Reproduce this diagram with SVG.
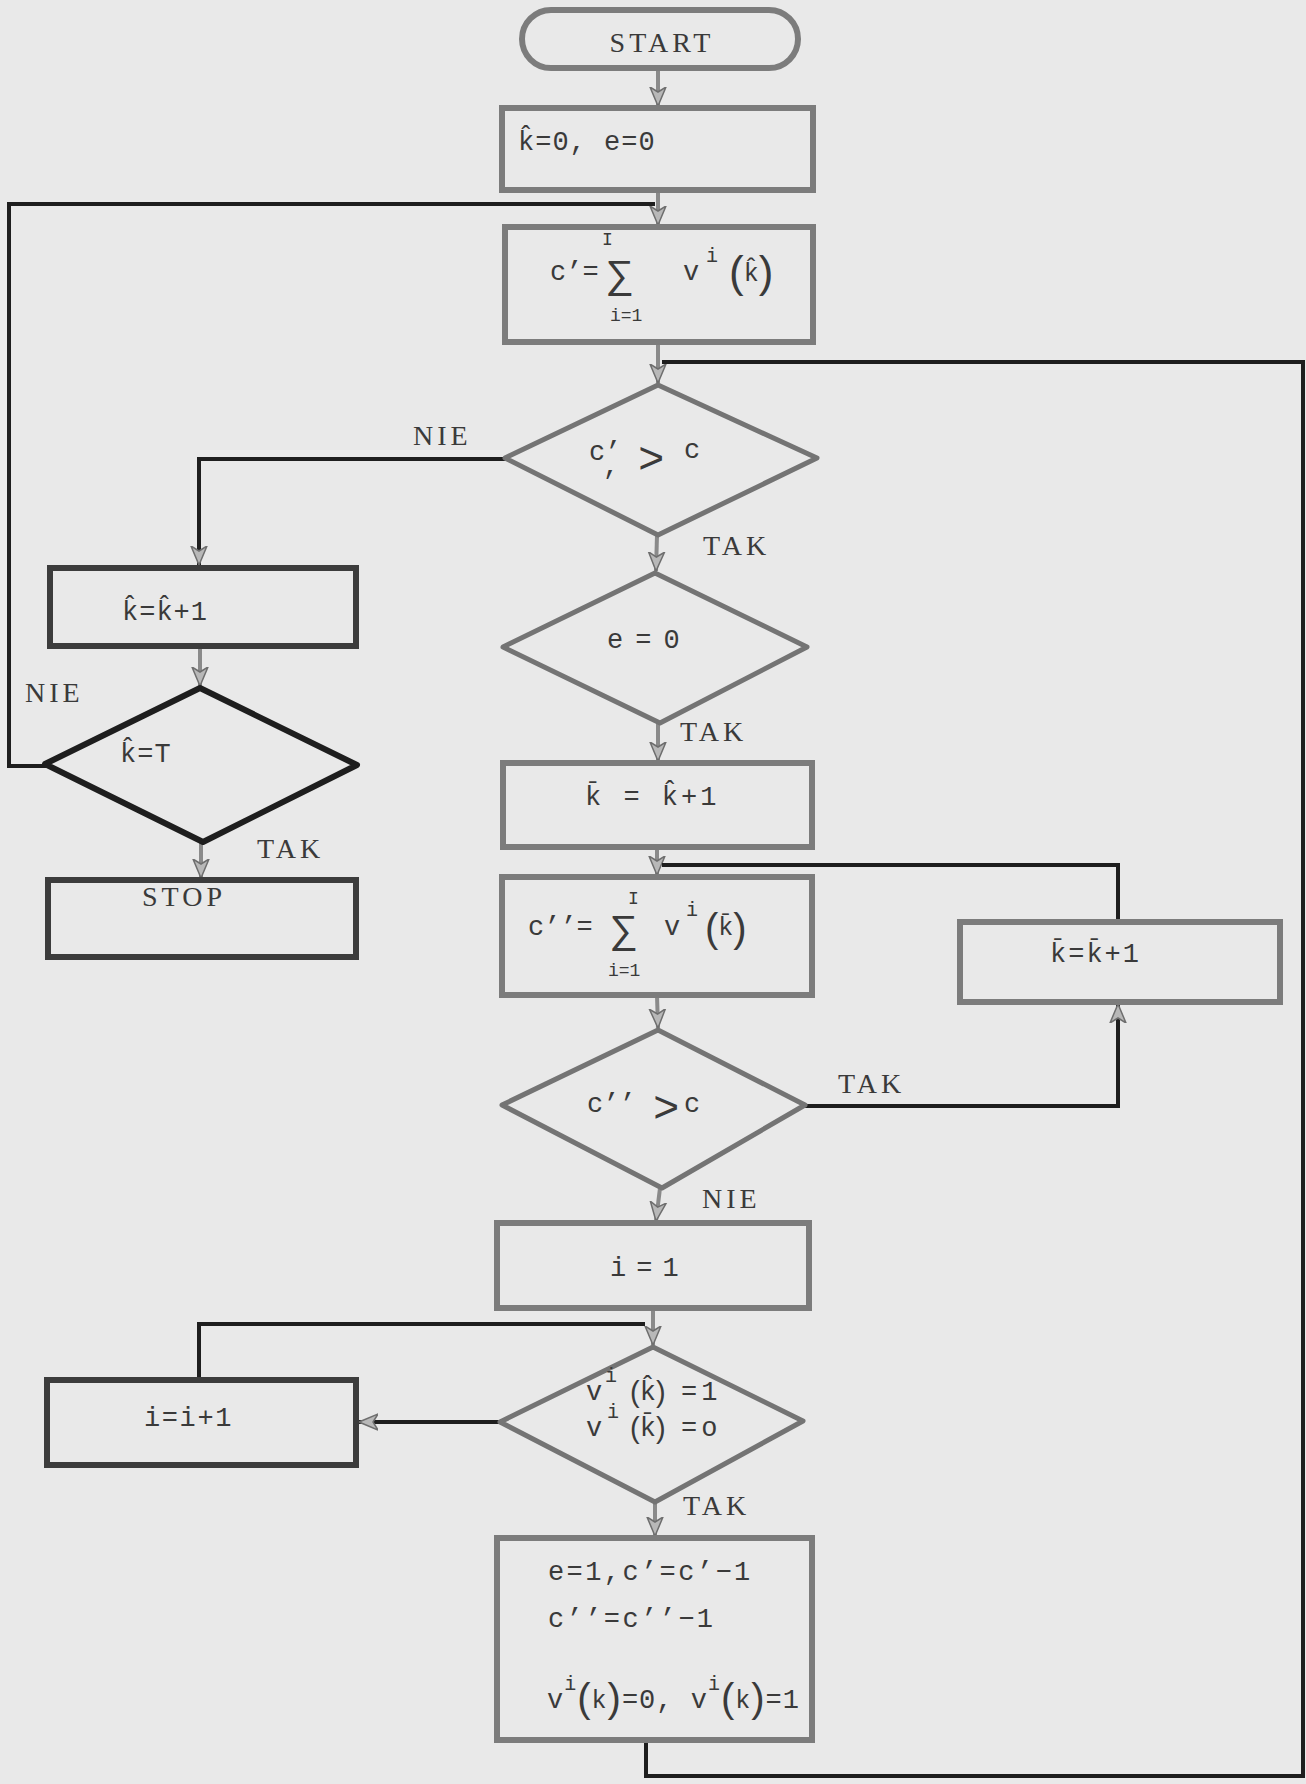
<svg xmlns="http://www.w3.org/2000/svg" width="1306" height="1784" viewBox="0 0 1306 1784">
<style>
.bg{fill:#e9e9e9}
.box{fill:none;stroke:#7c7c7c;stroke-width:6}
.boxd{fill:none;stroke:#3c3c3c;stroke-width:6}
.dia{fill:none;stroke:#747474;stroke-width:5;stroke-linejoin:round}
.diad{fill:none;stroke:#1e1e1e;stroke-width:6;stroke-linejoin:round}
.con{fill:none;stroke:#1e1e1e;stroke-width:4}
.conA{fill:none;stroke:#8a8a8a;stroke-width:4}
.f{font-family:"Liberation Mono","DejaVu Sans Mono",monospace;font-size:27px;fill:#3a3a3a}
.lab{font-family:"Liberation Serif","DejaVu Serif",serif;font-size:28px;letter-spacing:4px;fill:#3a3a3a}
.sm{font-size:18px}
.sup{font-size:20px}
.par{font-family:"Liberation Sans","DejaVu Sans",sans-serif}
</style>
<defs>
<marker id="ah" viewBox="0 0 20 20" refX="19" refY="10" markerWidth="20" markerHeight="20" markerUnits="userSpaceOnUse" orient="auto">
<path d="M0,2 L19,10 L0,18 L5,10 z" fill="#b8b8b8" stroke="#6e6e6e" stroke-width="1.5"/>
</marker>
</defs>
<rect class="bg" x="0" y="0" width="1306" height="1784"/>

<g id="connectors">
<line class="conA" x1="658" y1="68" x2="658" y2="106" marker-end="url(#ah)"/>
<line class="conA" x1="658" y1="190" x2="658" y2="225" marker-end="url(#ah)"/>
<polyline class="con" points="47,766 9,766 9,204 655,204"/>
<line class="conA" x1="658" y1="342" x2="658" y2="383" marker-end="url(#ah)"/>
<polyline class="con" points="646,1740 646,1776 1303,1776 1303,362 662,362"/>
<polyline class="con" points="505,459 199,459 199,565" marker-end="url(#ah)"/>
<line class="conA" x1="200" y1="646" x2="200" y2="686" marker-end="url(#ah)"/>
<line class="conA" x1="201" y1="842" x2="201" y2="878" marker-end="url(#ah)"/>
<line class="conA" x1="657" y1="535" x2="656" y2="571" marker-end="url(#ah)"/>
<line class="conA" x1="658" y1="723" x2="658" y2="761" marker-end="url(#ah)"/>
<line class="conA" x1="657" y1="847" x2="657" y2="875" marker-end="url(#ah)"/>
<polyline class="con" points="1118,922 1118,865 662,865"/>
<polyline class="con" points="805,1106 1118,1106 1118,1004" marker-end="url(#ah)"/>
<line class="conA" x1="657" y1="995" x2="658" y2="1028" marker-end="url(#ah)"/>
<line class="conA" x1="660" y1="1188" x2="656" y2="1221" marker-end="url(#ah)"/>
<line class="conA" x1="653" y1="1308" x2="653" y2="1345" marker-end="url(#ah)"/>
<polyline class="con" points="199,1380 199,1324 645,1324"/>
<line class="con" x1="500" y1="1422" x2="359" y2="1422" marker-end="url(#ah)"/>
<line class="conA" x1="655" y1="1502" x2="655" y2="1536" marker-end="url(#ah)"/>
</g>

<g id="start">
<rect class="box" x="522" y="10" width="276" height="58" rx="29"/>
<text class="lab" x="662" y="52" text-anchor="middle">START</text>
</g>

<g id="init">
<rect class="box" x="502" y="108" width="311" height="82"/>
<text class="f" x="518" y="150" letter-spacing="1">k̂=0, e=0</text>
</g>

<g id="sum1">
<rect class="box" x="505" y="227" width="308" height="115"/>
<text class="f" x="550" y="280">c’=<tspan class="sm" x="602" y="245">I</tspan><tspan x="608" y="287" font-size="40">∑</tspan><tspan class="sm" x="610" y="321">i=1</tspan><tspan x="683" y="280">v</tspan><tspan class="sup" x="706" y="262">i</tspan><tspan class="par" x="729" y="287" font-size="44">(</tspan><tspan y="281" font-size="25">k̂</tspan><tspan class="par" y="287" font-size="44">)</tspan></text>
</g>

<g id="cond1">
<polygon class="dia" points="658,385 817,458 658,535 505,458"/>
<text class="f" x="589 605 603" y="460 460 474">c’,<tspan x="638" y="473" font-size="44">&gt;</tspan><tspan x="684" y="458">c</tspan></text>
</g>

<g id="cond2">
<polygon class="dia" points="655,573 807,647 660,723 503,647"/>
<text class="f" x="607" y="648" letter-spacing="12">e=0</text>
</g>

<g id="kbar">
<rect class="box" x="503" y="763" width="309" height="84"/>
<text class="f" x="585" y="805" letter-spacing="3">k̄ = k̂+1</text>
</g>

<g id="sum2">
<rect class="box" x="502" y="877" width="310" height="118"/>
<text class="f" x="528" y="935">c’’=<tspan class="sm" x="628" y="904">I</tspan><tspan x="612" y="942" font-size="40">∑</tspan><tspan class="sm" x="608" y="976">i=1</tspan><tspan x="664" y="935">v</tspan><tspan class="sup" x="686" y="916">i</tspan><tspan class="par" x="705" y="942" font-size="40">(</tspan><tspan y="935" font-size="25">k̄</tspan><tspan class="par" y="942" font-size="40">)</tspan></text>
</g>

<g id="cond3">
<polygon class="dia" points="658,1030 805,1105 662,1188 502,1105"/>
<text class="f" x="587" y="1112">c’’<tspan x="653" y="1122" font-size="44">&gt;</tspan><tspan x="684" y="1112">c</tspan></text>
</g>

<g id="incbar">
<rect class="box" x="960" y="922" width="320" height="80"/>
<text class="f" x="1050" y="962" letter-spacing="2">k̄=k̄+1</text>
</g>

<g id="i1">
<rect class="box" x="497" y="1223" width="312" height="85"/>
<text class="f" x="610" y="1276" letter-spacing="10">i=1</text>
</g>

<g id="cond4">
<polygon class="dia" points="653,1347 803,1421 655,1502 500,1422"/>
<text class="f" x="586" y="1400">v<tspan class="sup" x="605" y="1382">i</tspan><tspan class="par" x="630" y="1402" font-size="29">(</tspan><tspan y="1400">k̂</tspan><tspan class="par" y="1402" font-size="29">)</tspan><tspan x="681" y="1400" letter-spacing="4">=1</tspan><tspan x="586" y="1436">v</tspan><tspan class="sup" x="607" y="1418">i</tspan><tspan class="par" x="630" y="1438" font-size="29">(</tspan><tspan y="1436">k̄</tspan><tspan class="par" y="1438" font-size="29">)</tspan><tspan x="681" y="1436" letter-spacing="4">=o</tspan></text>
</g>

<g id="update">
<rect class="box" x="497" y="1538" width="315" height="202"/>
<text class="f" x="548" y="1580" letter-spacing="2.4">e=1,c’=c’−1</text>
<text class="f" x="548" y="1627" letter-spacing="2.4">c’’=c’’−1</text>
<text class="f" x="547" y="1708" letter-spacing="1">v<tspan class="sup" dy="-18">i</tspan><tspan class="par" dy="22" font-size="40">(</tspan><tspan dy="-4" font-size="25">k</tspan><tspan class="par" dy="4" font-size="40">)</tspan><tspan dy="-4">=0, v</tspan><tspan class="sup" dy="-18">i</tspan><tspan class="par" dy="22" font-size="40">(</tspan><tspan dy="-4" font-size="25">k</tspan><tspan class="par" dy="4" font-size="40">)</tspan><tspan dy="-4">=1</tspan></text>
</g>

<g id="inchat">
<rect class="boxd" x="50" y="568" width="306" height="78"/>
<text class="f" x="122" y="620" letter-spacing="1">k̂=k̂+1</text>
</g>

<g id="condT">
<polygon class="diad" points="200,688 357,765 203,842 45,764"/>
<text class="f" x="120" y="762" letter-spacing="1">k̂=T</text>
</g>

<g id="stop">
<rect class="boxd" x="48" y="880" width="308" height="77"/>
<text class="lab" x="142" y="906">STOP</text>
</g>

<g id="inci">
<rect class="boxd" x="47" y="1380" width="309" height="85"/>
<text class="f" x="144" y="1426" letter-spacing="1.6">i=i+1</text>
</g>

<g id="labels">
<text class="lab" x="413" y="445">NIE</text>
<text class="lab" x="703" y="555">TAK</text>
<text class="lab" x="680" y="741">TAK</text>
<text class="lab" x="25" y="702">NIE</text>
<text class="lab" x="257" y="858">TAK</text>
<text class="lab" x="838" y="1093">TAK</text>
<text class="lab" x="702" y="1208">NIE</text>
<text class="lab" x="683" y="1515">TAK</text>
</g>
</svg>
